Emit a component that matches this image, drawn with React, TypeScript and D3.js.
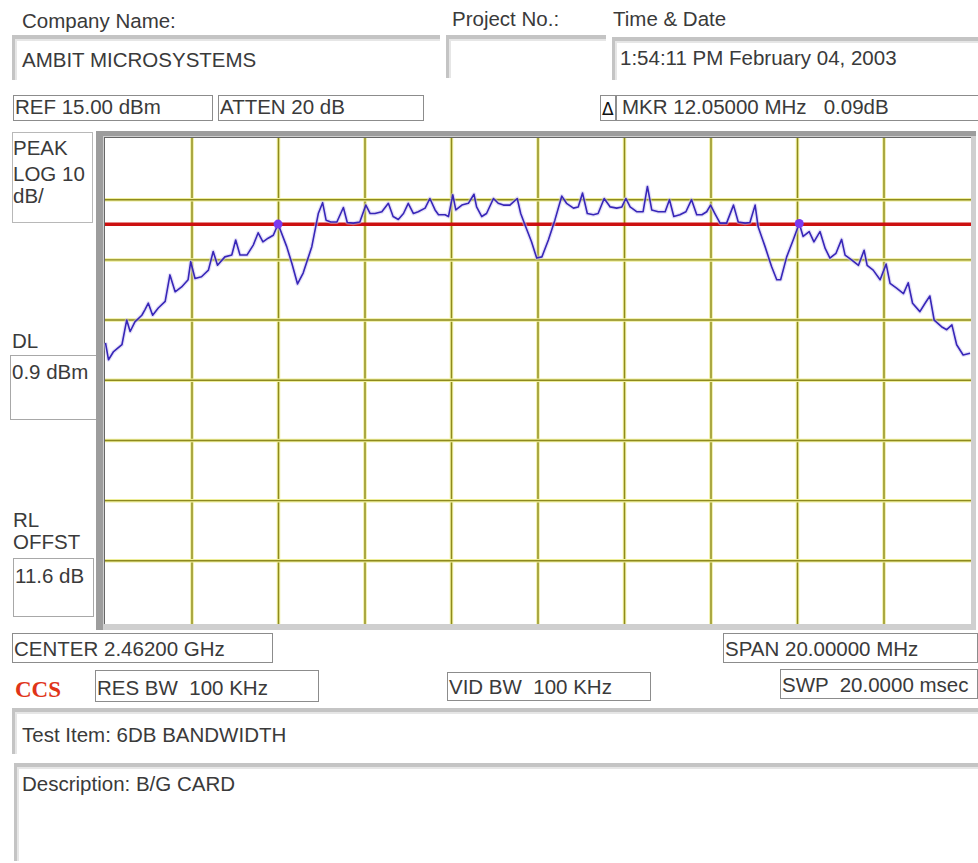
import React from 'react'
import * as d3 from 'd3'

// sweep: 2.452 - 2.472 GHz, offsets in MHz from the start of the span
const traceFreq = [
  0, 0.07, 0.18, 0.38, 0.49, 0.57, 0.68, 0.84, 0.91, 0.99, 1.09, 1.22, 1.38, 1.49, 1.61, 1.76, 1.91, 1.97, 2.07, 2.22,
  2.38, 2.49, 2.59, 2.76, 2.92, 3.01, 3.11, 3.27, 3.42, 3.53, 3.64, 3.76, 3.88, 3.99, 4.19, 4.31, 4.44, 4.57, 4.77, 4.92,
  5.02, 5.1, 5.21, 5.35, 5.5, 5.59, 5.73, 5.88, 6.02, 6.12, 6.23, 6.39, 6.54, 6.65, 6.77, 6.89, 7.0, 7.12, 7.23, 7.39,
  7.5, 7.62, 7.7, 7.85, 7.93, 8.03, 8.1, 8.24, 8.39, 8.52, 8.58, 8.7, 8.81, 8.97, 9.08, 9.2, 9.35, 9.52, 9.6, 9.7,
  9.85, 9.97, 10.09, 10.24, 10.39, 10.55, 10.66, 10.82, 10.93, 11.03, 11.14, 11.28, 11.39, 11.53, 11.67, 11.82, 11.94, 12.03, 12.13, 12.28,
  12.43, 12.53, 12.63, 12.78, 12.94, 13.04, 13.14, 13.28, 13.42, 13.55, 13.67, 13.79, 13.9, 13.99, 14.09, 14.21, 14.36, 14.52, 14.63, 14.79,
  14.9, 15.02, 15.09, 15.25, 15.4, 15.52, 15.61, 15.75, 15.9, 16.04, 16.13, 16.27, 16.38, 16.52, 16.64, 16.75, 16.89, 17.02, 17.1, 17.25,
  17.41, 17.54, 17.61, 17.75, 17.91, 18.05, 18.14, 18.29, 18.45, 18.56, 18.66, 18.83, 18.95, 19.06, 19.16, 19.33, 19.45, 19.57, 19.68, 19.83,
  19.99
]
const traceLevel = [
  -18.8, -21.6, -20.3, -19.1, -15.0, -16.9, -15.3, -14.2, -13.3, -12.2, -14.2, -13.0, -11.9, -7.5, -10.3, -9.5, -8.3, -5.3, -8.1, -7.8,
  -6.7, -3.6, -5.9, -4.5, -4.2, -1.7, -4.2, -4.2, -2.5, -0.5, -2.0, -1.4, -0.9, 0.95, -2.8, -5.6, -9.0, -7.2, -2.8, 2.7,
  4.5, 1.6, 1.3, 1.3, 3.7, 1.2, 1.1, 1.3, 4.1, 2.7, 2.7, 3.0, 4.4, 2.2, 1.7, 2.7, 4.4, 2.7, 3.0, 3.6,
  5.2, 3.3, 2.5, 2.5, 2.2, 5.8, 3.3, 4.1, 4.4, 5.9, 3.8, 2.2, 2.7, 5.2, 4.4, 4.1, 4.1, 5.2, 2.7, 0.8,
  -2.0, -4.7, -4.5, -1.7, 1.6, 5.6, 4.4, 3.6, 3.8, 6.1, 2.7, 2.5, 2.7, 5.2, 3.8, 3.6, 3.8, 5.2, 3.8, 3.0,
  3.0, 7.2, 3.3, 3.0, 3.0, 5.0, 2.2, 2.5, 3.0, 5.0, 2.5, 2.5, 3.0, 4.1, 2.7, 1.1, 1.1, 4.1, 1.3, 1.1,
  1.2, 4.1, 0.5, -2.8, -6.1, -8.3, -8.3, -4.5, -1.7, 1.04, -1.1, -0.3, -2.0, -0.3, -3.1, -4.7, -3.9, -1.6, -4.2, -5.0,
  -5.9, -3.4, -5.9, -6.7, -8.3, -5.7, -8.9, -9.7, -10.6, -8.8, -12.2, -13.6, -12.2, -11.0, -15.0, -16.1, -16.6, -15.8, -19.1, -20.8,
  -20.5
]

// delta markers (MHz offset, dBm) and display line
const markerFreq = [3.99, 16.04]
const markerLevel = [0.95, 1.04]
const displayLine = 0.9

const refLevel = 15
const dbPerDiv = 10
const vDivs = 8
const spanMHz = 20
const hDivs = 10

const FONT = "'Liberation Sans', Arial, sans-serif"
const INK = '#3a3a3a'

const xTicks = d3.range(0, spanMHz + 0.001, spanMHz / hDivs)
const yTicks = d3.range(refLevel - vDivs * dbPerDiv, refLevel + 0.001, dbPerDiv)

// small bordered readout boxes: [x, y, w, h, text]
const boxes: [number, number, number, number, string][] = [
  [13, 95, 199, 25, 'REF 15.00 dBm'],
  [218, 95, 205, 25, 'ATTEN 20 dB'],
  [616, 95, 362, 25, 'MKR 12.05000 MHz   0.09dB'],
  [12, 633, 260, 29, 'CENTER 2.46200 GHz'],
  [723, 633, 254, 29, 'SPAN 20.00000 MHz'],
  [95, 670, 223, 31, 'RES BW  100 KHz'],
  [447, 672, 203, 28, 'VID BW  100 KHz'],
  [780, 669, 197, 29, 'SWP  20.0000 msec']
]

const Sunken = ({ x, y, w, h }: { x: number; y: number; w: number; h: number }) => (
  <g>
    <rect x={x} y={y} width={w} height={4} fill="#c4c4c4" />
    <rect x={x} y={y + 4} width={w} height={2} fill="#e6e6e6" />
    <rect x={x} y={y} width={3} height={h} fill="#c4c4c4" />
    <rect x={x + 3} y={y + 4} width={2} height={h - 4} fill="#e6e6e6" />
  </g>
)

const App: React.FC = () => {
  const width = 978
  const height = 863

  const x = d3.scaleLinear().domain([0, spanMHz]).range([105.5, 970.5])
  const y = d3
    .scaleLinear()
    .domain([refLevel - vDivs * dbPerDiv, refLevel])
    .range([621, 139.5])

  const pts: [number, number][] = traceFreq.map((f, i) => [f, traceLevel[i]])
  const line = d3
    .line<[number, number]>()
    .x((d) => x(d[0]))
    .y((d) => y(d[1]))
  const path = line(pts) || ''

  const txt = (tx: number, ty: number, s: string) => (
    <text
      x={tx}
      y={ty}
      fontFamily={FONT}
      fontSize={20.5}
      fill={INK}
      xmlSpace="preserve"
      style={{ whiteSpace: 'pre' }}
    >
      {s}
    </text>
  )

  return (
    <svg
      width={width}
      height={height}
      style={{ position: 'absolute', left: 0, top: 0, background: '#fff' }}
    >
      <rect width={width} height={height} fill="#fff" />

      {/* header */}
      {txt(22, 28, 'Company Name:')}
      <Sunken x={12} y={35} w={428} h={45} />
      {txt(22, 67, 'AMBIT MICROSYSTEMS')}
      {txt(452, 26, 'Project No.:')}
      <Sunken x={446} y={35} w={160} h={43} />
      {txt(613, 26, 'Time & Date')}
      <Sunken x={612} y={37} w={366} h={43} />
      {txt(620, 65, '1:54:11 PM February 04, 2003')}

      {boxes.map(([bx, by, bw, bh, s], i) => (
        <g key={i}>
          <rect x={bx + 0.5} y={by + 0.5} width={bw} height={bh} fill="none" stroke="#8c8c8c" />
          {txt(bx + (i === 2 ? 6 : 2), by + bh - 6, s)}
        </g>
      ))}
      <rect x={600.5} y={95.5} width={15} height={25} fill="none" stroke="#8c8c8c" />
      <text x={602} y={115} fontFamily="'DejaVu Sans', sans-serif" fontSize={17} fill="#111">
        Δ
      </text>

      {/* left side labels */}
      <rect x={12.5} y={132.5} width={80} height={90} fill="none" stroke="#b8b8b8" />
      {txt(13, 155, 'PEAK')}
      {txt(13, 181, 'LOG 10')}
      {txt(13, 203, 'dB/')}
      {txt(12, 348, 'DL')}
      <rect x={10.5} y={355.5} width={86} height={64} fill="none" stroke="#a8a8a8" />
      {txt(12, 379, '0.9 dBm')}
      {txt(13, 527, 'RL')}
      {txt(13, 549, 'OFFST')}
      <rect x={13.5} y={558.5} width={80} height={58} fill="none" stroke="#a8a8a8" />
      {txt(15, 583, '11.6 dB')}

      {/* plot frame */}
      <rect x={96} y={131} width={880} height={499} fill="#cfcfcf" />
      <rect x={96} y={131} width={880} height={5} fill="#9d9d9d" />
      <rect x={96} y={131} width={7} height={499} fill="#9d9d9d" />
      <rect x={104} y={137} width={867} height={487} fill="#fff" />
      <line x1={104} y1={137.5} x2={971} y2={137.5} stroke="#666" />
      <line x1={104.5} y1={137} x2={104.5} y2={624} stroke="#666" />

      {/* graticule */}
      <g>
        {xTicks.slice(1, -1).map((t) => (
          <g key={'x' + t}>
            <line x1={x(t)} x2={x(t)} y1={138} y2={624} stroke="#eeee9a" strokeWidth={3.5} />
            <line x1={x(t)} x2={x(t)} y1={138} y2={624} stroke="#8e8a1e" strokeWidth={1.4} />
          </g>
        ))}
        {yTicks.slice(1, -1).map((t) => (
          <g key={'y' + t}>
            <line x1={105} x2={971} y1={y(t)} y2={y(t)} stroke="#eeee9a" strokeWidth={3.5} />
            <line x1={105} x2={971} y1={y(t)} y2={y(t)} stroke="#8e8a1e" strokeWidth={1.4} />
          </g>
        ))}
      </g>

      {/* display line */}
      <line x1={105} x2={971} y1={y(displayLine)} y2={y(displayLine)} stroke="#cc1010" strokeWidth={3.5} />

      {/* trace */}
      <path d={path} fill="none" stroke="#c9c2f2" strokeWidth={4} strokeOpacity={0.5} strokeLinejoin="round" />
      <path d={path} fill="none" stroke="#3726b8" strokeWidth={1.6} strokeLinejoin="round" />

      {markerFreq.map((f, i) => (
        <circle key={i} cx={x(f)} cy={y(markerLevel[i])} r={4.5} fill="#7a3cf0" />
      ))}

      {/* footer */}
      <text x={15} y={697} fontFamily="'Liberation Serif', 'Times New Roman', serif" fontWeight="bold" fontSize={23} fill="#e03418">
        CCS
      </text>
      <Sunken x={12} y={708} w={966} h={46} />
      {txt(22, 742, 'Test Item: 6DB BANDWIDTH')}
      <Sunken x={14} y={763} w={964} h={98} />
      {txt(22, 791, 'Description: B/G CARD')}
    </svg>
  )
}

export default App
